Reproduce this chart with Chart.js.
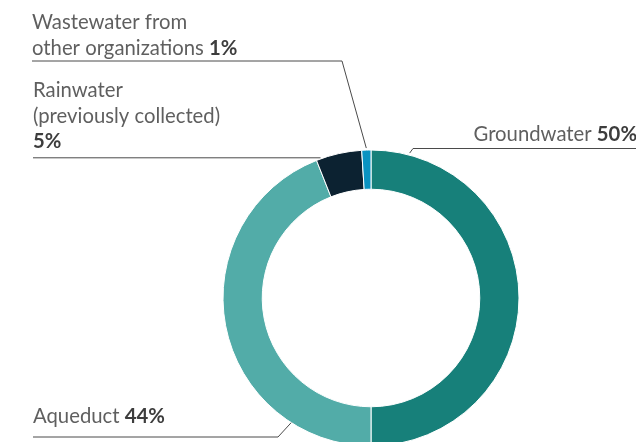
<!DOCTYPE html>
<html lang="en">
<head>
<meta charset="UTF-8">
<title>Water sources</title>
<script src="https://cdn.jsdelivr.net/npm/chart.js"></script>
<style>
html, body {
	margin: 0;
	padding: 0;
	background: #fff;
	overflow: hidden;
}
#wrap {
	position: relative;
	width: 636px;
	height: 460px;
}
</style>
</head>
<body>
<div id="wrap">
	<canvas id="waterChart" width="636" height="460"></canvas>
</div>
<script>
const categories = ['Groundwater', 'Aqueduct', 'Rainwater (previously collected)', 'Wastewater from other organizations'];
const shares = [50, 44, 5, 1];
const colors = ['#17807a', '#52aca8', '#0c2231', '#0a93c1'];

// label text lines (normal part, bold part)
const labelLines = [
	[['Groundwater ', '50%']],
	[['Aqueduct ', '44%']],
	[['Rainwater', ''], ['(previously collected)', ''], ['', '5%']],
	[['Wastewater from', ''], ['other organizations ', '1%']]
];

// where the label sits and where the leader goes
const labelLayout = [
	{ x: 637, y: 141, align: 'right', frac: 0.083, off: 2, path: [[413, 148.5], [637, 148.5]] },
	{ x: 33, y: 423, align: 'left', frac: 0.206, off: 0, path: [[278, 437], [33, 437]] },
	{ x: 33, y: 97, align: 'left', frac: 0.1, off: 1, path: [[33, 'anchor']] },
	{ x: 32, y: 29, align: 'left', frac: 0.5, off: 2, path: [[342, 61], [32, 61]] }
];

const fontFam = 'Lato, "Open Sans", sans-serif';
const fontSize = 20.3;
const lineGap = 25.5;

const leaderPlugin = {
	id: 'leaders',
	afterDraw(chart) {
		const ctx = chart.ctx;
		const arcs = chart.getDatasetMeta(0).data;
		ctx.save();
		arcs.forEach((arc, i) => {
			const lay = labelLayout[i];
			const a = arc.startAngle + lay.frac * (arc.endAngle - arc.startAngle);
			const r = arc.outerRadius + lay.off;
			const ax = arc.x + Math.cos(a) * r;
			const ay = arc.y + Math.sin(a) * r;

			ctx.strokeStyle = '#4a4a4a';
			ctx.lineWidth = 1;
			ctx.beginPath();
			ctx.moveTo(ax, ay);
			lay.path.forEach(p => {
				ctx.lineTo(p[0], p[1] === 'anchor' ? ay : p[1]);
			});
			ctx.stroke();

			labelLines[i].forEach((ln, k) => {
				const y = lay.y + k * lineGap;
				ctx.textBaseline = 'alphabetic';
				ctx.textAlign = 'left';
				ctx.font = 'normal ' + fontSize + 'px ' + fontFam;
				const w1 = ctx.measureText(ln[0]).width;
				ctx.font = 'bold ' + fontSize + 'px ' + fontFam;
				const w2 = ctx.measureText(ln[1]).width;
				let x = lay.align === 'right' ? lay.x - w1 - w2 : lay.x;
				ctx.font = 'normal ' + fontSize + 'px ' + fontFam;
				ctx.fillStyle = '#5f5f5f';
				ctx.fillText(ln[0], x, y);
				ctx.font = 'bold ' + fontSize + 'px ' + fontFam;
				ctx.fillStyle = '#3d3d3d';
				ctx.fillText(ln[1], x + w1, y);
			});
		});
		ctx.restore();
	}
};

new Chart(document.getElementById('waterChart'), {
	type: 'doughnut',
	data: {
		labels: categories,
		datasets: [{
			data: shares,
			backgroundColor: colors,
			borderColor: '#ffffff',
			borderWidth: 1
		}]
	},
	options: {
		responsive: false,
		animation: false,
		cutout: '73.5%',
		layout: {
			padding: { top: 149.5, bottom: 13.5, left: 222.5, right: 116.5 }
		},
		plugins: {
			legend: { display: false },
			tooltip: { enabled: false }
		}
	},
	plugins: [leaderPlugin]
});
</script>
</body>
</html>
